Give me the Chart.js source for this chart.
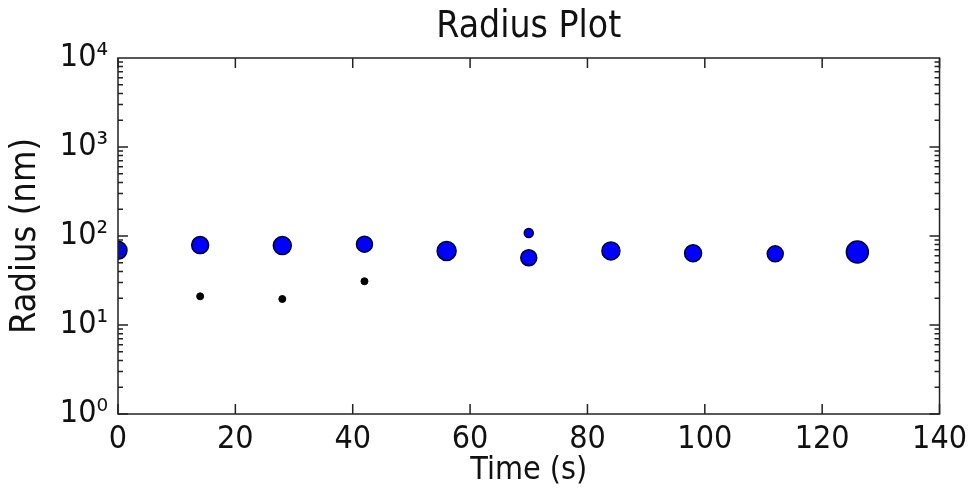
<!DOCTYPE html>
<html>
<head>
<meta charset="utf-8">
<script src="https://cdn.jsdelivr.net/npm/chart.js@4"></script>
<style>
  html, body { margin: 0; padding: 0; background: #fff; }
  #wrap { width: 973px; height: 490px; }
</style>
</head>
<body>
<div id="wrap"><canvas id="radiusChart"></canvas></div>
<script>
// blue markers (large), two at t = 70
const bigTimes = [0, 14, 28, 42, 56, 70, 70, 84, 98, 112, 126];
const bigRadii = [69, 79, 78, 81, 68, 108, 57, 68, 64, 63, 66];
const bigSizes = [9, 8.5, 9, 8, 9.5, 4.5, 8, 9, 8.5, 8, 11];
// small black markers
const smallTimes = [14, 28, 42];
const smallRadii = [21, 19.6, 31];
const smallSizes = [3.5, 3.5, 3.5];

const xTicks = [0, 20, 40, 60, 80, 100, 120, 140];
const yTicks = [1, 10, 100, 1000, 10000];
const yTickLabels = ["10⁰", "10¹", "10²", "10³", "10⁴"];

const FONT = "'DejaVu Sans Condensed', 'DejaVu Sans', sans-serif";

// matplotlib style frame with inward ticks on all four sides
const frameTicks = {
  id: "frameTicks",
  afterDatasetsDraw(chart) {
    const { ctx, chartArea: a, scales: { x, y } } = chart;
    ctx.save();
    ctx.strokeStyle = "#222";
    ctx.lineWidth = 1.5;
    ctx.beginPath();
    xTicks.forEach(v => {
      const px = x.getPixelForValue(v);
      ctx.moveTo(px, a.bottom); ctx.lineTo(px, a.bottom - 10);
      ctx.moveTo(px, a.top); ctx.lineTo(px, a.top + 10);
    });
    for (let d = 0; d < 4; d++) {
      for (let m = 1; m < 10; m++) {
        const py = y.getPixelForValue(m * Math.pow(10, d));
        const len = m === 1 ? 10 : 5;
        ctx.moveTo(a.left, py); ctx.lineTo(a.left + len, py);
        ctx.moveTo(a.right, py); ctx.lineTo(a.right - len, py);
      }
    }
    ctx.stroke();
    ctx.strokeRect(a.left, a.top, a.width, a.height);
    ctx.restore();
  }
};

const radiusChart = new Chart(document.getElementById("radiusChart"), {
  type: "bubble",
  data: {
    datasets: [
      {
        label: "large",
        data: bigTimes.map((t, i) => ({ x: t, y: bigRadii[i], r: bigSizes[i] })),
        backgroundColor: "#0000ff",
        borderColor: "#000030",
        borderWidth: 1.5,
        clip: 0,
      },
      {
        label: "small",
        data: smallTimes.map((t, i) => ({ x: t, y: smallRadii[i], r: smallSizes[i] })),
        backgroundColor: "#000000",
        borderColor: "#000000",
        borderWidth: 1,
        clip: 0,
      },
    ],
  },
  options: {
    responsive: true,
    maintainAspectRatio: false,
    animation: false,
    layout: { padding: { left: 0, right: 30, top: 0, bottom: 0 } },
    scales: {
      x: {
        type: "linear",
        min: 0,
        max: 140,
        afterBuildTicks: s => { s.ticks = xTicks.map(v => ({ value: v })); },
        afterFit: s => { s.height = 76; },
        grid: { display: false, drawTicks: false },
        border: { display: false },
        ticks: { color: "#111", font: { family: FONT, size: 32 }, padding: 6, maxRotation: 0 },
        title: { display: true, text: "Time (s)", color: "#111", font: { family: FONT, size: 32 }, padding: 0 },
      },
      y: {
        type: "logarithmic",
        min: 1,
        max: 10000,
        afterBuildTicks: s => { s.ticks = yTicks.map(v => ({ value: v })); },
        afterFit: s => { s.width = 118; },
        grid: { display: false, drawTicks: false },
        border: { display: false },
        ticks: {
          color: "#111",
          font: { family: FONT, size: 32 },
          padding: 10,
          callback: v => yTickLabels[yTicks.indexOf(v)],
        },
        title: { display: true, text: "Radius (nm)", color: "#111", font: { family: FONT, size: 36 }, padding: { top: 4, bottom: 0 } },
      },
    },
    plugins: {
      legend: { display: false },
      tooltip: { enabled: false },
      title: {
        display: true,
        fullSize: false,
        text: "Radius Plot",
        color: "#111",
        font: { family: FONT, size: 37, weight: "normal" },
        padding: { top: 5, bottom: 8.6 },
      },
    },
  },
  plugins: [frameTicks],
});
</script>
</body>
</html>
